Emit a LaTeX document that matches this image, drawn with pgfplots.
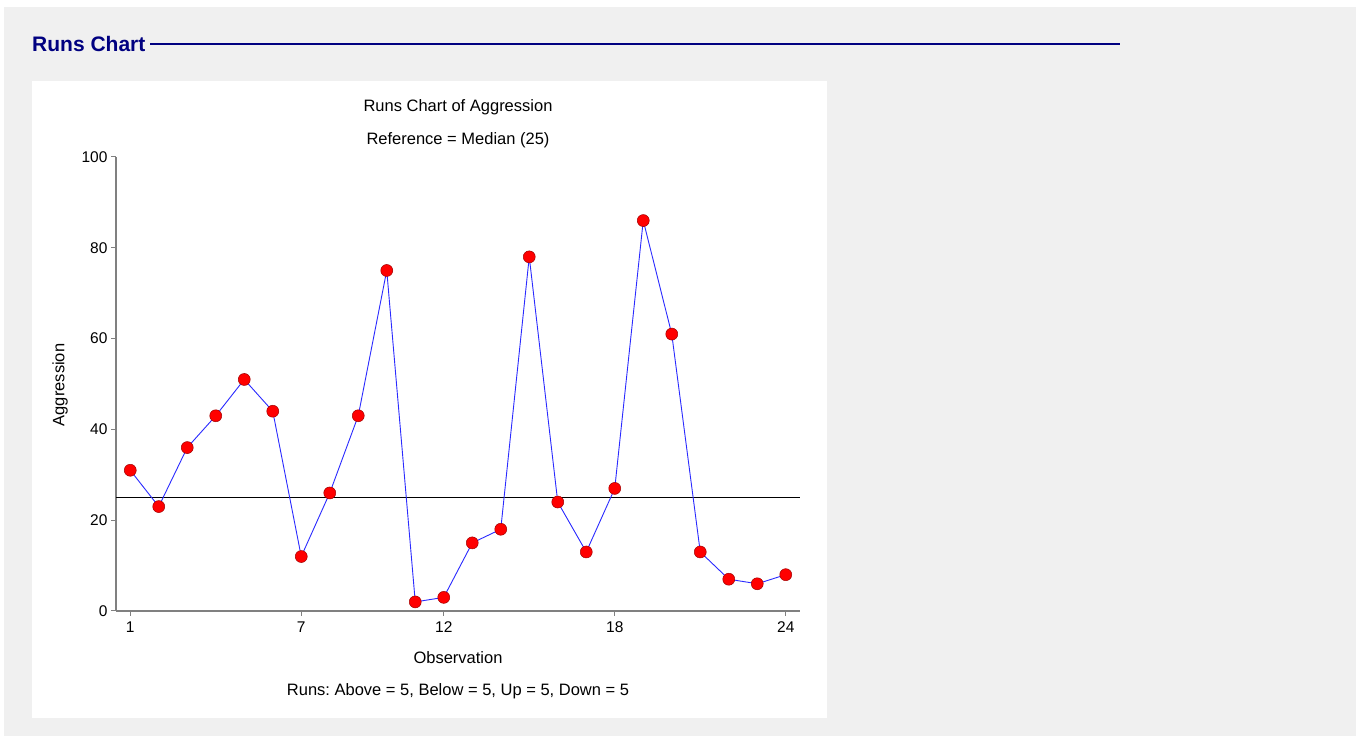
\documentclass[border=0pt]{standalone}
\usepackage{fontspec}
\setmainfont{Liberation Sans}
\usepackage{pgfplots}
\pgfplotsset{compat=1.18}
\definecolor{bggray}{HTML}{F0F0F0}
\definecolor{navy}{HTML}{000080}
\definecolor{lineblue}{HTML}{2A2AFF}
\definecolor{axisgray}{HTML}{808080}
\definecolor{markred}{HTML}{FF0000}
\definecolor{markedge}{HTML}{A00000}
\frenchspacing
\begin{document}
\begin{tikzpicture}[x=1pt,y=1pt]
% page background and chart panel
\fill[white] (0,0) rectangle (1356,738);
\fill[bggray] (4,2) rectangle (1356,731);
\fill[white] (32,20) rectangle (827,657);
% section header
\node[anchor=west, inner sep=0, text=navy, font=\bfseries\fontsize{21}{24}\selectfont] at (32,694) {Runs Chart};
\draw[navy, line width=2pt] (150,694) -- (1120,694);
% chart
\begin{axis}[
  at={(116pt,127pt)}, anchor=south west,
  scale only axis, width=684pt, height=454pt,
  xmin=0.5, xmax=24.5, ymin=0, ymax=100,
  axis x line=bottom, axis y line=left,
  axis line style={-, axisgray, line width=1.4pt},
  xtick={1,7,12,18,24}, ytick={0,20,40,60,80,100},
  tick align=outside, major tick length=5pt,
  tick style={axisgray, line width=1pt},
  ticklabel style={font=\fontsize{15.5}{17}\selectfont, text=black},
  xticklabel style={yshift=-2.5pt},
  /pgf/number format/assume math mode=true,
  clip=false,
]
% reference line at the median
\addplot[black, line width=0.9pt] coordinates {(0.5,25) (24.5,25)};
% observations
\addplot[lineblue, line width=0.9pt, mark=*, mark size=6pt,
  mark options={fill=markred, draw=markedge, line width=0.5pt}] coordinates {
  (1,31) (2,23) (3,36) (4,43) (5,51) (6,44) (7,12) (8,26)
  (9,43) (10,75) (11,2) (12,3) (13,15) (14,18) (15,78) (16,24)
  (17,13) (18,27) (19,86) (20,61) (21,13) (22,7) (23,6) (24,8)
};
\end{axis}
% titles and labels
\node[font=\fontsize{16.5}{19}\selectfont] at (458,631) {Runs Chart of Aggression};
\node[font=\fontsize{16.5}{19}\selectfont] at (458,598) {Reference = Median (25)};
\node[font=\fontsize{16.5}{19}\selectfont] at (458,80) {Observation};
\node[font=\fontsize{16.5}{19}\selectfont] at (458,47) {Runs: Above = 5, Below = 5, Up = 5, Down = 5};
\node[rotate=90, font=\fontsize{16.5}{19}\selectfont] at (60,353) {Aggression};
\end{tikzpicture}
\end{document}
